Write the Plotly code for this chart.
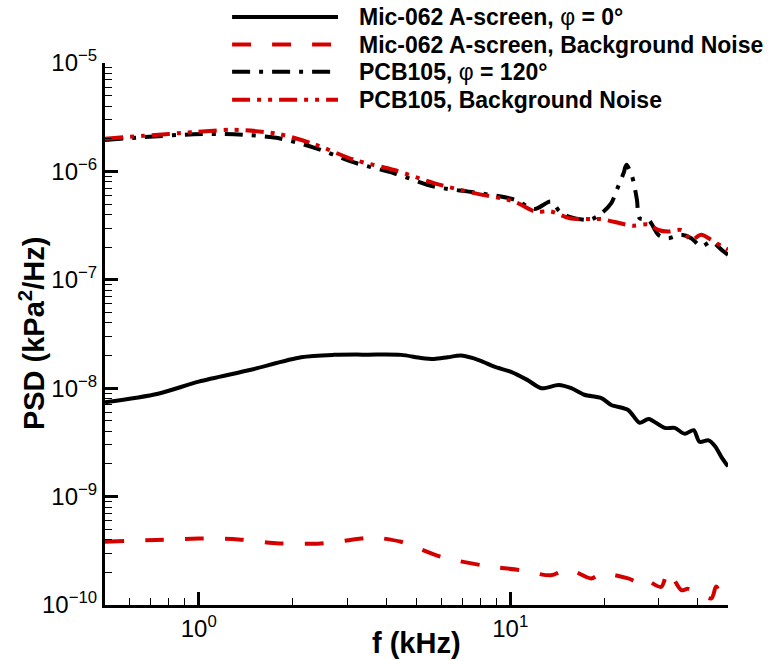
import plotly.graph_objects as go

# ---- data (frequency in kHz, PSD in kPa^2/Hz) ----
mic_f = [0.5, 0.74, 1.0, 1.47, 2.13, 2.72, 3.5, 4.46, 5.17, 5.7, 6.3, 6.96, 8.0, 8.89, 10.1,
         11.3, 12.6, 14.3, 15.7, 17.3, 19.6, 21.1, 23.9, 26.0, 27.8, 31.3, 33.7, 36.3, 38.8,
         40.5, 43.3, 45.5, 47.7, 50.0]
mic_psd = [7.4e-9, 8.9e-9, 1.15e-8, 1.48e-8, 1.93e-8, 2.03e-8, 2.04e-8, 2.03e-8, 1.9e-8,
           1.86e-8, 1.93e-8, 2.0e-8, 1.8e-8, 1.58e-8, 1.41e-8, 1.2e-8, 1.0e-8, 1.07e-8,
           1.0e-8, 8.7e-9, 8.1e-9, 7.0e-9, 6.3e-9, 4.8e-9, 5.2e-9, 4.3e-9, 4.3e-9, 3.8e-9,
           4.1e-9, 3.2e-9, 3.3e-9, 2.9e-9, 2.3e-9, 1.9e-9]

micbg_f = [0.5, 0.73, 1.0, 1.34, 1.81, 2.47, 3.32, 3.65, 4.46, 4.8, 6.0, 8.07, 10.85, 13.5,
           15.3, 18.2, 19.6, 23.9, 25.7, 26.7, 30.5, 32.1, 35.4, 37.1, 38.8, 44.2, 45.8,
           47.7, 50.0]
micbg_psd = [3.83e-10, 3.98e-10, 4.1e-10, 4.03e-10, 3.7e-10, 3.7e-10, 4.1e-10, 4.2e-10,
             3.83e-10, 3.56e-10, 2.78e-10, 2.33e-10, 2.09e-10, 1.88e-10, 2.14e-10, 1.76e-10,
             1.95e-10, 1.76e-10, 1.63e-10, 1.76e-10, 1.47e-10, 2.04e-10, 1.37e-10, 1.41e-10,
             1.35e-10, 1.15e-10, 1.48e-10, 1.2e-10, 1.03e-10]

pcb_f = [0.5, 0.665, 0.964, 1.296, 1.795, 2.34, 3.15, 4.24, 5.69, 7.66, 10.3, 11.97, 13.5,
         14.4, 15.5, 18.0, 19.6, 21.1, 22.0, 23.1, 23.6, 24.6, 25.5, 26.0, 27.8, 29.9, 32.1,
         35.4, 38.1, 41.0, 44.2, 47.7, 50.0]
pcb_psd = [1.95e-6, 2.07e-6, 2.2e-6, 2.2e-6, 2.03e-6, 1.66e-6, 1.21e-6, 9.6e-7, 7.25e-7,
           6.4e-7, 5.5e-7, 4.5e-7, 5.27e-7, 4.27e-7, 3.8e-7, 3.57e-7, 4.1e-7, 5.1e-7, 6.8e-7,
           9.6e-7, 1.15e-6, 9.0e-7, 5.5e-7, 3.7e-7, 3.57e-7, 2.6e-7, 2.42e-7, 2.6e-7, 2.42e-7,
           2.03e-7, 2.25e-7, 1.89e-7, 1.7e-7]

pcbbg_f = [0.5, 0.665, 0.964, 1.296, 1.795, 2.34, 3.15, 4.24, 5.69, 7.66, 10.3, 11.97, 13.5,
           15.5, 18.0, 19.6, 24.6, 27.8, 29.9, 32.1, 35.4, 38.1, 41.0, 44.2, 47.7, 50.0]
pcbbg_psd = [2.0e-6, 2.13e-6, 2.3e-6, 2.42e-6, 2.22e-6, 1.79e-6, 1.28e-6, 1.03e-6, 7.8e-7,
             6.3e-7, 5.27e-7, 4.27e-7, 4.27e-7, 3.7e-7, 3.63e-7, 3.63e-7, 3.16e-7, 3.24e-7,
             2.88e-7, 2.79e-7, 2.88e-7, 2.34e-7, 2.6e-7, 2.34e-7, 2.04e-7, 1.9e-7]

names = ["<b>Mic-062 A-screen, </b>φ<b> = 0°</b>",
         "<b>Mic-062 A-screen, Background Noise</b>",
         "<b>PCB105, </b>φ<b> = 120°</b>",
         "<b>PCB105, Background Noise</b>"]

x_tickvals = [1, 10]
x_ticktext = ["10<sup>0</sup>", "10<sup>1</sup>"]
x_minor = [0.6, 0.7, 0.8, 0.9, 2, 3, 4, 5, 6, 7, 8, 9, 20, 30, 40, 50]
y_tickvals = [1e-10, 1e-9, 1e-8, 1e-7, 1e-6, 1e-5]
y_ticktext = ["10<sup>−10</sup>", "10<sup>−9</sup>", "10<sup>−8</sup>",
              "10<sup>−7</sup>", "10<sup>−6</sup>", "10<sup>−5</sup>"]
y_minor = [m * d for d in [1e-10, 1e-9, 1e-8, 1e-7, 1e-6] for m in [2, 3, 4, 5, 6, 7, 8, 9]]

RED = "#d40000"
FONT = "Liberation Sans, Arial, Helvetica, sans-serif"

series = [
    (mic_f, mic_psd, "black", "solid"),
    (micbg_f, micbg_psd, RED, "19px,21px"),
    (pcb_f, pcb_psd, "black", "18px,9px,4px,9px"),
    (pcbbg_f, pcbbg_psd, RED, "18px,7px,4px,7px,4px,7px"),
]

fig = go.Figure()
for (xs, ys, col, dash), nm in zip(series, names):
    fig.add_trace(go.Scatter(x=xs, y=ys, mode="lines", name=nm, showlegend=False,
                             line=dict(color=col, width=4, dash=dash,
                                       shape="spline", smoothing=0.8)))

# legend drawn in the upper margin (sample line + label per row)
row_y = [1.085, 1.034, 0.984, 0.932]
for (xs, ys, col, dash), nm, ry in zip(series, names, row_y):
    fig.add_shape(type="line", xref="paper", yref="paper", x0=0.204, x1=0.374, y0=ry, y1=ry,
                  line=dict(color=col, width=4, dash=dash))
    fig.add_annotation(xref="paper", yref="paper", x=0.404, y=ry, xanchor="left",
                       yanchor="middle", text=nm, showarrow=False,
                       font=dict(family=FONT, size=23, color="black"))

axis_common = dict(
    type="log", showgrid=False, zeroline=False, showline=True, linecolor="black",
    linewidth=3, ticks="inside", ticklen=13, tickwidth=2.5, tickcolor="black",
    tickfont=dict(family=FONT, size=24, color="black"),
    mirror=False,
)

fig.update_layout(
    width=773, height=661,
    margin=dict(l=105, r=45, t=63, b=56, autoexpand=False),
    paper_bgcolor="white", plot_bgcolor="white",
    font=dict(family=FONT, color="black"),
    xaxis=dict(axis_common, range=[-0.30103, 1.69897],
               tickmode="array", tickvals=x_tickvals, ticktext=x_ticktext,
               minor=dict(tickmode="array", tickvals=x_minor, ticks="inside", ticklen=7,
                          tickwidth=1.3, tickcolor="black", showgrid=False)),
    yaxis=dict(axis_common, range=[-10, -5],
               tickmode="array", tickvals=y_tickvals, ticktext=y_ticktext,
               minor=dict(tickmode="array", tickvals=y_minor, ticks="inside", ticklen=7,
                          tickwidth=1.3, tickcolor="black", showgrid=False)),
    showlegend=False,
)

fig.add_annotation(xref="paper", yref="paper", x=0.5, y=-0.0701, xanchor="center",
                   yanchor="middle", text="<b>f (kHz)</b>", showarrow=False,
                   font=dict(family=FONT, size=29, color="black"))
fig.add_annotation(xref="paper", yref="paper", x=-0.117, y=0.5, xanchor="center",
                   yanchor="middle", textangle=-90, text="<b>PSD (kPa<sup>2</sup>/Hz)</b>",
                   showarrow=False, font=dict(family=FONT, size=29, color="black"))

fig.write_html("out.html")
